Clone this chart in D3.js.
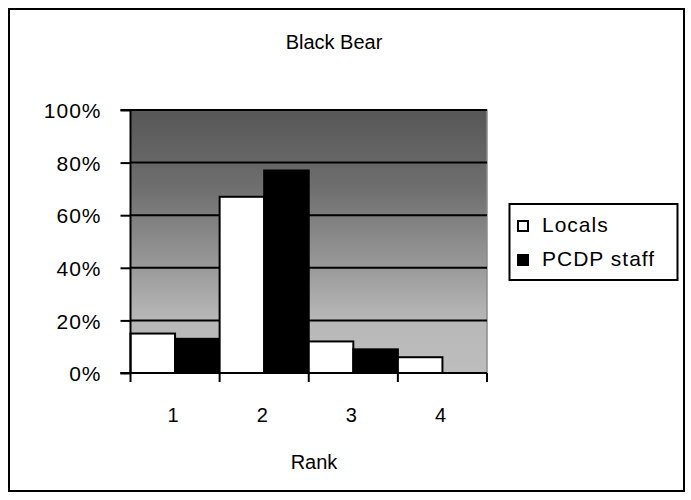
<!DOCTYPE html>
<html>
<head>
<meta charset="utf-8">
<script src="https://cdn.jsdelivr.net/npm/d3@7"></script>
<style>
  html, body { margin: 0; padding: 0; background: #fff; }
  svg { display: block; font-family: "Liberation Sans", Arial, sans-serif; }
</style>
</head>
<body>
<svg id="chart" width="691" height="500"></svg>
<script>
// Share of respondents by rank given to the black bear
const ranks = ["1", "2", "3", "4"];
const seriesNames = ["Locals", "PCDP staff"];
const locals = [0.15, 0.67, 0.12, 0.06];
const pcdpStaff = [0.13, 0.77, 0.09, 0.0];
const yTicks = [0, 0.2, 0.4, 0.6, 0.8, 1.0];

const seriesValues = [locals, pcdpStaff];
const seriesFill = ["#ffffff", "#000000"];
const FONT = 20;
const WIDE_FONT = 21;

const svg = d3.select("#chart");

// Outer frame
svg.append("rect")
  .attr("x", 9).attr("y", 9).attr("width", 675).attr("height", 482)
  .attr("fill", "#fff").attr("stroke", "#000").attr("stroke-width", 2);

// Title
svg.append("text")
  .attr("x", 334).attr("y", 49)
  .attr("text-anchor", "middle")
  .attr("font-size", FONT)
  .text("Black Bear");

const plot = { left: 130.5, right: 487, top: 110, bottom: 373 };

const x = d3.scaleBand().domain(ranks).range([plot.left, plot.right]).paddingInner(0).paddingOuter(0);
const xs = d3.scaleBand().domain(seriesNames).range([0, x.bandwidth()]).padding(0);
const y = d3.scaleLinear().domain([0, 1]).range([plot.bottom, plot.top]);

// Plot area gradient (dark at top, light toward the bottom)
const defs = svg.append("defs");
const grad = defs.append("linearGradient")
  .attr("id", "plotGrad").attr("x1", 0).attr("y1", 0).attr("x2", 0).attr("y2", 1);
grad.append("stop").attr("offset", "0%").attr("stop-color", "#575757");
grad.append("stop").attr("offset", "30%").attr("stop-color", "#6f6f6f");
grad.append("stop").attr("offset", "60%").attr("stop-color", "#9a9a9a");
grad.append("stop").attr("offset", "80%").attr("stop-color", "#b8b8b8");
grad.append("stop").attr("offset", "100%").attr("stop-color", "#bdbdbd");

svg.append("rect")
  .attr("x", plot.left).attr("y", plot.top)
  .attr("width", plot.right - plot.left).attr("height", plot.bottom - plot.top)
  .attr("fill", "url(#plotGrad)");

// Plot area edge on the top and right
svg.append("path")
  .attr("d", `M${plot.left},${plot.top}H${plot.right}V${plot.bottom}`)
  .attr("fill", "none").attr("stroke", "#8a8a8a").attr("stroke-width", 1.5);

// Gridlines
svg.append("g")
  .selectAll("line")
  .data(yTicks.filter(d => d > 0))
  .join("line")
  .attr("x1", plot.left).attr("x2", plot.right)
  .attr("y1", d => y(d)).attr("y2", d => y(d))
  .attr("stroke", "#000").attr("stroke-width", 2);

// Bars
const groups = svg.append("g")
  .selectAll("g")
  .data(ranks)
  .join("g")
  .attr("transform", d => `translate(${x(d)},0)`);

groups.selectAll("rect")
  .data((r, i) => seriesNames.map((s, k) => ({ s, k, v: seriesValues[k][i] })))
  .join("rect")
  .filter(d => d.v > 0)
  .attr("x", d => xs(d.s))
  .attr("y", d => y(d.v))
  .attr("width", xs.bandwidth())
  .attr("height", d => y(0) - y(d.v))
  .attr("fill", d => seriesFill[d.k])
  .attr("stroke", "#000").attr("stroke-width", 2);

// Y axis
const yAxis = d3.axisLeft(y)
  .tickValues(yTicks)
  .tickFormat(d3.format(".0%"))
  .tickSize(10)
  .tickPadding(19);
const yg = svg.append("g").attr("transform", `translate(${plot.left},0)`).call(yAxis);
yg.select(".domain").attr("stroke-width", 2).attr("d", `M-10,${plot.top}H0V${plot.bottom}H-10`);
yg.selectAll(".tick line").attr("stroke-width", 2);
yg.selectAll(".tick text")
  .attr("font-size", WIDE_FONT)
  .attr("letter-spacing", 1)
  .attr("dy", "0.37em")
  .attr("fill", "#000")
  .attr("font-family", "Liberation Sans, Arial, sans-serif");

// X axis with ticks at the category boundaries
const xg = svg.append("g").attr("transform", `translate(0,${plot.bottom})`);
xg.append("line")
  .attr("x1", plot.left - 10).attr("x2", plot.right)
  .attr("stroke", "#000").attr("stroke-width", 2);
const boundaries = ranks.map(r => x(r)).concat([x(ranks[ranks.length - 1]) + x.bandwidth()]);
xg.selectAll("line.tk")
  .data(boundaries)
  .join("line")
  .attr("class", "tk")
  .attr("x1", d => d).attr("x2", d => d)
  .attr("y1", 0).attr("y2", 9)
  .attr("stroke", "#000").attr("stroke-width", 2);
xg.selectAll("text")
  .data(ranks)
  .join("text")
  .attr("x", d => x(d) + x.bandwidth() / 2 - 2)
  .attr("y", 49)
  .attr("text-anchor", "middle")
  .attr("font-size", FONT)
  .text(d => d);

// Axis title
svg.append("text")
  .attr("x", 314).attr("y", 469)
  .attr("text-anchor", "middle")
  .attr("font-size", FONT)
  .text("Rank");

// Legend
const legend = svg.append("g");
legend.append("rect")
  .attr("x", 509.5).attr("y", 204).attr("width", 168).attr("height", 76)
  .attr("fill", "#fff").attr("stroke", "#000").attr("stroke-width", 2);
const items = legend.selectAll("g.item")
  .data(seriesNames)
  .join("g")
  .attr("class", "item")
  .attr("transform", (d, i) => `translate(518,${221 + i * 34})`);
items.append("rect")
  .attr("x", 0).attr("y", 0).attr("width", 10).attr("height", 10)
  .attr("fill", (d, i) => seriesFill[i])
  .attr("stroke", "#000").attr("stroke-width", 2);
items.append("text")
  .attr("x", 24).attr("y", 11)
  .attr("font-size", WIDE_FONT)
  .attr("letter-spacing", 1)
  .text(d => d);
</script>
</body>
</html>
